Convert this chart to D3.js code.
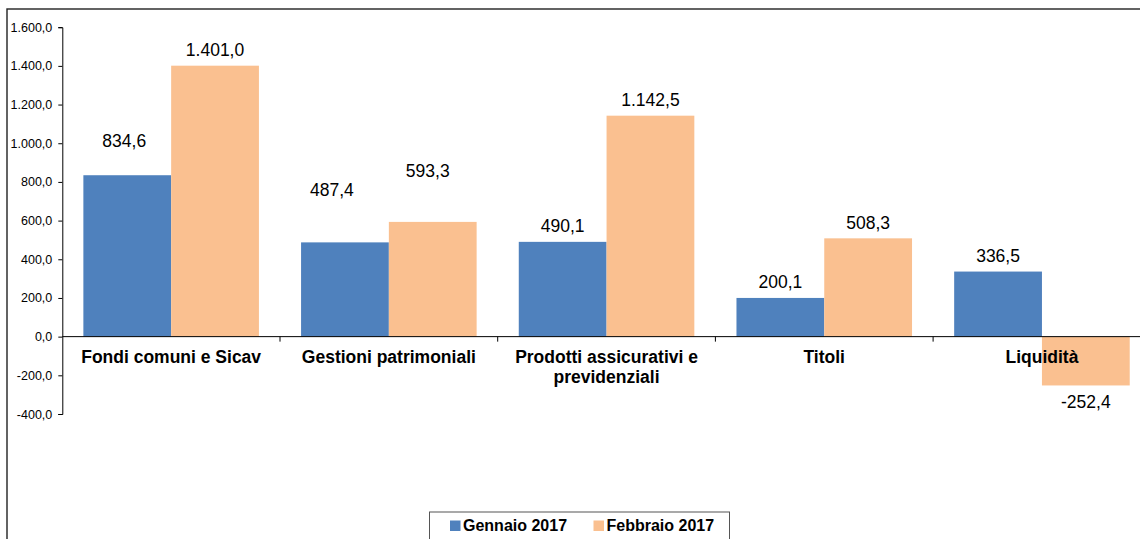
<!DOCTYPE html>
<html>
<head>
<meta charset="utf-8">
<script src="https://cdn.jsdelivr.net/npm/d3@7"></script>
<style>
  html, body { margin: 0; padding: 0; background: #fff; }
  svg { display: block; font-family: "Liberation Sans", Arial, sans-serif; }
</style>
</head>
<body>
<svg id="chart" width="1140" height="539"></svg>
<script>
// Categories and the two monthly series (values in millions of euro)
const categories = [
  "Fondi comuni e Sicav",
  "Gestioni patrimoniali",
  "Prodotti assicurativi e previdenziali",
  "Titoli",
  "Liquidità"
];
const seriesNames = ["Gennaio 2017", "Febbraio 2017"];
const gennaio = [834.6, 487.4, 490.1, 200.1, 336.5];
const febbraio = [1401.0, 593.3, 1142.5, 508.3, -252.4];
const yTicks = [-400, -200, 0, 200, 400, 600, 800, 1000, 1200, 1400, 1600];

// Manually placed value labels [dx, dy] relative to the default spot
const labelOffsets = [
  [[-3, -19], [0, 0]],
  [[-13, -37], [-5, -35]],
  [[0, 0], [0, 0]],
  [[0, 0], [0, 0]],
  [[0, 0], [0, 0]]
];

const colors = ["#4F81BD", "#FAC090"];

const it = d3.formatLocale({ decimal: ",", thousands: ".", grouping: [3], currency: ["€", ""], minus: "-" });
const fmt = it.format(",.1f");

const svg = d3.select("#chart");

// Outer frame of the chart area
svg.append("rect")
  .attr("x", 7).attr("y", 9)
  .attr("width", 1200).attr("height", 600)
  .attr("fill", "none").attr("stroke", "#222").attr("stroke-width", 1.4);

const plot = { left: 62.3, right: 1150.8, top: 27.2, bottom: 414 };

const x0 = d3.scaleBand().domain(categories).range([plot.left, plot.right]).padding(0);
const x1 = d3.scaleBand().domain(seriesNames).range([0, x0.bandwidth()])
  .paddingInner(0).paddingOuter(0.24);
const y = d3.scaleLinear().domain([-400, 1600]).range([plot.bottom, plot.top]);

const rows = categories.map((c, i) => ({
  cat: c, i,
  vals: [gennaio[i], febbraio[i]]
}));

// Bars
const groups = svg.append("g").selectAll("g").data(rows).join("g")
  .attr("transform", d => `translate(${x0(d.cat)},0)`);

groups.selectAll("rect")
  .data(d => d.vals.map((v, k) => ({ v, k, i: d.i })))
  .join("rect")
  .attr("x", d => x1(seriesNames[d.k]))
  .attr("width", x1.bandwidth())
  .attr("y", d => y(Math.max(0, d.v)))
  .attr("height", d => Math.abs(y(d.v) - y(0)))
  .attr("fill", d => colors[d.k]);

// Y axis
const yAxis = d3.axisLeft(y).tickValues(yTicks).tickFormat(fmt).tickSizeOuter(0).tickSize(4).tickPadding(6);
const gy = svg.append("g").attr("transform", `translate(${plot.left},0)`).call(yAxis);
gy.select(".domain").attr("stroke", "#000").attr("stroke-width", 1);
gy.selectAll(".tick line").attr("stroke", "#000");
gy.selectAll(".tick text").attr("font-size", 12.5).attr("fill", "#000")
  .attr("font-family", "Liberation Sans, Arial, sans-serif");

// Zero line with category separators
svg.append("line")
  .attr("x1", plot.left).attr("x2", plot.right)
  .attr("y1", y(0)).attr("y2", y(0))
  .attr("stroke", "#000").attr("stroke-width", 1);
const sep = categories.map(c => x0(c)).concat([plot.right]).slice(1);
svg.append("g").selectAll("line").data(sep).join("line")
  .attr("x1", d => d).attr("x2", d => d)
  .attr("y1", y(0)).attr("y2", y(0) + 5)
  .attr("stroke", "#000");

// Value labels
groups.selectAll("text.val")
  .data(d => d.vals.map((v, k) => ({ v, k, i: d.i })))
  .join("text")
  .attr("class", "val")
  .attr("x", d => x1(seriesNames[d.k]) + x1.bandwidth() / 2 + labelOffsets[d.i][d.k][0])
  .attr("y", d => (d.v >= 0 ? y(d.v) - 9.5 : y(d.v) + 23) + labelOffsets[d.i][d.k][1])
  .attr("text-anchor", "middle")
  .attr("font-size", 17.5)
  .attr("fill", "#000")
  .text(d => fmt(d.v));

// Category labels, wrapped to the band width
function wrap(words, width, size) {
  const ctx = document.createElement("canvas").getContext("2d");
  ctx.font = `bold ${size}px "Liberation Sans", Arial, sans-serif`;
  const lines = [];
  let line = [];
  words.forEach(w => {
    const t = line.concat([w]).join(" ");
    if (ctx.measureText(t).width > width && line.length) {
      lines.push(line.join(" "));
      line = [w];
    } else line.push(w);
  });
  if (line.length) lines.push(line.join(" "));
  return lines;
}

const catG = svg.append("g");
rows.forEach(d => {
  const lines = wrap(d.cat.split(" "), x0.bandwidth() * 0.92, 17.5);
  const t = catG.append("text")
    .attr("x", x0(d.cat) + x0.bandwidth() / 2)
    .attr("y", y(0) + 26.5)
    .attr("text-anchor", "middle")
    .attr("font-size", 17.5)
    .attr("font-weight", "bold")
    .attr("fill", "#000");
  lines.forEach((l, j) => {
    t.append("tspan").attr("x", x0(d.cat) + x0.bandwidth() / 2)
      .attr("dy", j === 0 ? 0 : 19.5).text(l);
  });
});

// Legend
const legend = svg.append("g");
legend.append("rect")
  .attr("x", 429.5).attr("y", 512)
  .attr("width", 300).attr("height", 40)
  .attr("fill", "#fff").attr("stroke", "#555").attr("stroke-width", 1);
const legendX = [450, 593.5];
seriesNames.forEach((n, k) => {
  legend.append("rect")
    .attr("x", legendX[k]).attr("y", 520.5)
    .attr("width", 10.5).attr("height", 10.5)
    .attr("fill", colors[k]);
  legend.append("text")
    .attr("x", legendX[k] + 13).attr("y", 531)
    .attr("font-size", 16).attr("font-weight", "bold")
    .attr("fill", "#000")
    .text(n);
});
</script>
</body>
</html>
